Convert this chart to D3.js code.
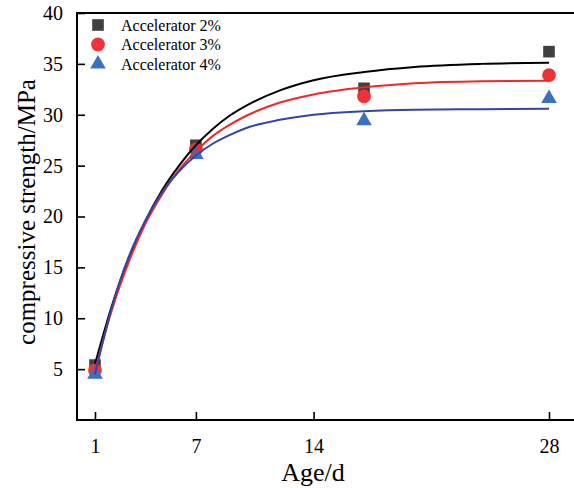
<!DOCTYPE html>
<html>
<head>
<meta charset="utf-8">
<script src="https://cdn.jsdelivr.net/npm/d3@7"></script>
<style>
  html, body { margin: 0; padding: 0; background: #fff; }
  svg { display: block; }
</style>
</head>
<body>
<svg id="chart" width="574" height="488"></svg>
<script>
// Test ages (days) and measured compressive strength (MPa)
const ages = [1, 7, 17, 28];
const strength2 = [5.4, 27.0, 32.6, 36.2];
const strength3 = [4.9, 26.6, 31.8, 33.9];
const strength4 = [4.5, 26.1, 29.4, 31.6];

// Fitted growth curves, sampled along the age axis
const fitAges = [1, 2, 3, 4, 5, 6, 7, 8, 9, 10, 12, 14, 17, 20, 24, 28];
const fit2 = [5.5, 11.2, 15.9, 19.6, 22.6, 25.0, 27.0, 28.6, 29.9, 30.9, 32.4, 33.4, 34.2, 34.7, 35.0, 35.1];
const fit3 = [4.8, 10.8, 15.5, 19.3, 22.2, 24.6, 26.4, 27.9, 29.0, 29.9, 31.2, 32.0, 32.7, 33.1, 33.3, 33.35];
const fit4 = [4.5, 11.05, 16.0, 19.6, 22.4, 24.45, 26.0, 27.15, 28.0, 28.7, 29.5, 30.0, 30.35, 30.5, 30.55, 30.6];

const seriesNames = ["Accelerator 2%", "Accelerator 3%", "Accelerator 4%"];
const xTicks = [1, 7, 14, 28];
const yTicks = [5, 10, 15, 20, 25, 30, 35, 40];

const series = [
  { name: seriesNames[0], pts: strength2, fit: fit2, symbol: d3.symbolSquare, size: 135, fill: "#404040", stroke: "#000000" },
  { name: seriesNames[1], pts: strength3, fit: fit3, symbol: d3.symbolCircle, size: 150, fill: "#ee3338", stroke: "#f02828" },
  { name: seriesNames[2], pts: strength4, fit: fit4, symbol: d3.symbolTriangle, size: 105, fill: "#3a6fc4", stroke: "#3346a8" }
];

const svg = d3.select("#chart");
const plotLeft = 77, plotTop = 13, plotBottom = 420, plotRight = 580;
const serif = "'Liberation Serif', 'Times New Roman', serif";

const x = d3.scaleLinear().domain([1, 28]).range([95, 549]);
const y = d3.scaleLinear().domain([0, 40]).range([plotBottom, plotTop]);

// Frame: left, top and bottom edges
const frame = svg.append("g").attr("stroke", "#000").attr("stroke-width", 2).attr("fill", "none");
frame.append("line").attr("x1", plotLeft).attr("x2", plotLeft).attr("y1", plotTop - 1).attr("y2", plotBottom + 1);
frame.append("line").attr("x1", plotLeft - 1).attr("x2", plotRight).attr("y1", plotTop).attr("y2", plotTop);
frame.append("line").attr("x1", plotLeft - 1).attr("x2", plotRight).attr("y1", plotBottom).attr("y2", plotBottom);

// Axes with inward ticks
const yAxis = svg.append("g").attr("transform", `translate(${plotLeft},0)`)
  .call(d3.axisRight(y).tickValues(yTicks).tickSize(8).tickFormat(d3.format("d")));
yAxis.select(".domain").remove();
yAxis.selectAll("line").attr("stroke", "#000").attr("stroke-width", 1.6);
yAxis.selectAll("text").attr("x", -14).attr("text-anchor", "end")
  .attr("font-family", serif).attr("font-size", 20).attr("fill", "#000");

const xAxis = svg.append("g").attr("transform", `translate(0,${plotBottom})`)
  .call(d3.axisTop(x).tickValues(xTicks).tickSize(8).tickFormat(d3.format("d")));
xAxis.select(".domain").remove();
xAxis.selectAll("line").attr("stroke", "#000").attr("stroke-width", 1.6);
xAxis.selectAll("text").attr("y", 19).attr("dy", "0.71em")
  .attr("font-family", serif).attr("font-size", 20).attr("fill", "#000");

// Axis titles
svg.append("text").attr("x", 313).attr("y", 481).attr("text-anchor", "middle")
  .attr("font-family", serif).attr("font-size", 26).text("Age/d");
svg.append("text").attr("transform", "translate(35,212) rotate(-90)").attr("text-anchor", "middle")
  .attr("font-family", serif).attr("font-size", 25).text("compressive strength/MPa");

// Measured points
series.forEach(s => {
  svg.append("g").selectAll("path").data(ages.map((a, i) => [a, s.pts[i]])).join("path")
    .attr("d", d3.symbol().type(s.symbol).size(s.size))
    .attr("transform", d => `translate(${x(d[0])},${y(d[1])})`)
    .attr("fill", s.fill);
});

// Fitted curves drawn over the points
const line = d3.line().x(d => x(d[0])).y(d => y(d[1])).curve(d3.curveMonotoneX);
series.forEach(s => {
  svg.append("path").datum(fitAges.map((a, i) => [a, s.fit[i]]))
    .attr("d", line).attr("fill", "none").attr("stroke", s.stroke).attr("stroke-width", 2);
});

// Legend
const legend = svg.append("g");
series.forEach((s, i) => {
  const ly = 25 + i * 19.5;
  legend.append("path").attr("d", d3.symbol().type(s.symbol).size(s.size))
    .attr("transform", `translate(98,${ly})`).attr("fill", s.fill);
  legend.append("text").attr("x", 121).attr("y", ly).attr("dy", "0.35em")
    .attr("font-family", serif).attr("font-size", 16).text(s.name);
});
</script>
</body>
</html>
